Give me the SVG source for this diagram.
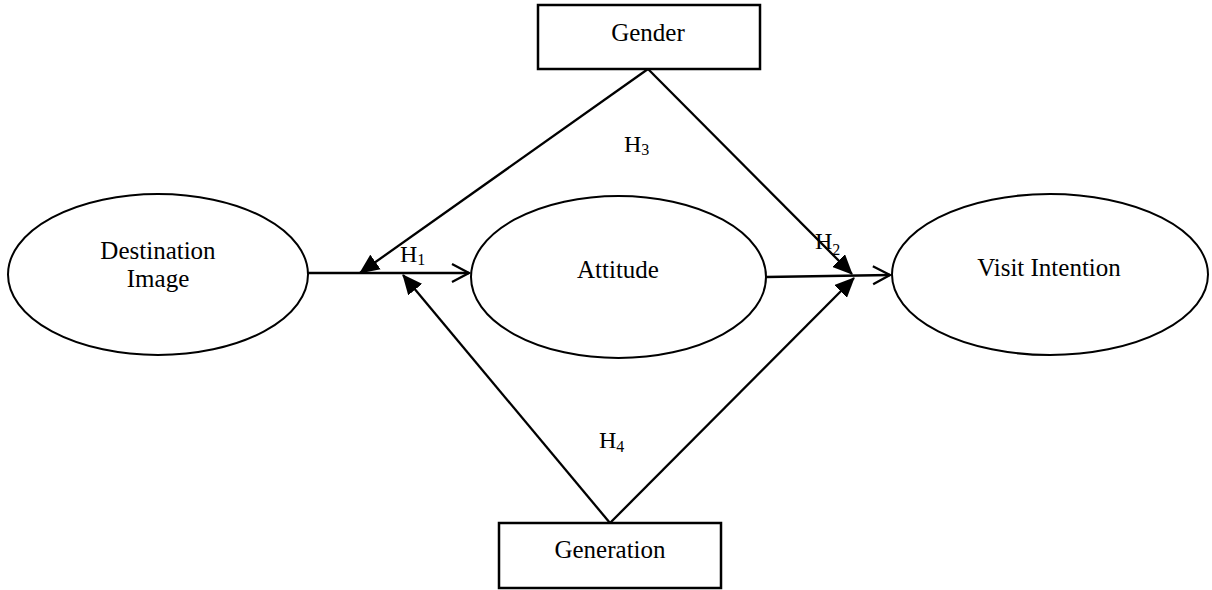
<svg xmlns="http://www.w3.org/2000/svg" width="1212" height="590" viewBox="0 0 1212 590">
<style>
.node{fill:#fff;stroke:#000;stroke-width:2}
.box{fill:#fff;stroke:#000;stroke-width:2.5}
.lbl{font-family:"Liberation Serif",serif;font-size:25px;fill:#000;text-anchor:middle}
.h{font-family:"Liberation Serif",serif;font-size:24px;fill:#000}
.sub{font-size:16px}
.ln{stroke:#000;stroke-width:2.3;fill:none}
</style>
<defs>
<marker id="tri" markerUnits="userSpaceOnUse" markerWidth="20" markerHeight="18" viewBox="0 0 20 18" refX="19" refY="9" orient="auto">
<path d="M0,0 L20,9 L0,18 Z" fill="#000"/>
</marker>
<marker id="open" markerUnits="userSpaceOnUse" markerWidth="22" markerHeight="22" viewBox="0 0 22 22" refX="20" refY="11" orient="auto">
<path d="M3,2 L20,11 L3,20" fill="none" stroke="#000" stroke-width="2.3"/>
</marker>
</defs>
<g id="connectors">
<line class="ln" x1="308" y1="273" x2="469" y2="273" marker-end="url(#open)"/>
<line class="ln" x1="766" y1="277" x2="890" y2="275" marker-end="url(#open)"/>
<line class="ln" x1="648" y1="69" x2="360" y2="273" marker-end="url(#tri)"/>
<line class="ln" x1="648" y1="69" x2="852" y2="274" marker-end="url(#tri)"/>
<line class="ln" x1="610" y1="523" x2="403" y2="275" marker-end="url(#tri)"/>
<line class="ln" x1="610" y1="523" x2="854" y2="278" marker-end="url(#tri)"/>
</g>
<g id="destination-image">
<ellipse class="node" cx="158" cy="274.5" rx="150" ry="80.5"/>
<text class="lbl" x="158" y="259">Destination</text>
<text class="lbl" x="158" y="287">Image</text>
</g>
<g id="attitude">
<ellipse class="node" cx="618.5" cy="277" rx="147.5" ry="81"/>
<text class="lbl" x="618" y="278">Attitude</text>
</g>
<g id="visit-intention">
<ellipse class="node" cx="1050" cy="274.5" rx="158" ry="80.5"/>
<text class="lbl" x="1049" y="276">Visit Intention</text>
</g>
<g id="gender">
<rect class="box" x="538" y="5" width="222" height="64"/>
<text class="lbl" x="648" y="41">Gender</text>
</g>
<g id="generation">
<rect class="box" x="499" y="523" width="222" height="65"/>
<text class="lbl" x="610" y="558">Generation</text>
</g>
<g id="labels">
<text class="h" x="400" y="262">H<tspan class="sub" dy="3">1</tspan></text>
<text class="h" x="815" y="249">H<tspan class="sub" dy="6">2</tspan></text>
<text class="h" x="624" y="152">H<tspan class="sub" dy="3">3</tspan></text>
<text class="h" x="599" y="448">H<tspan class="sub" dy="4">4</tspan></text>
</g>
</svg>
